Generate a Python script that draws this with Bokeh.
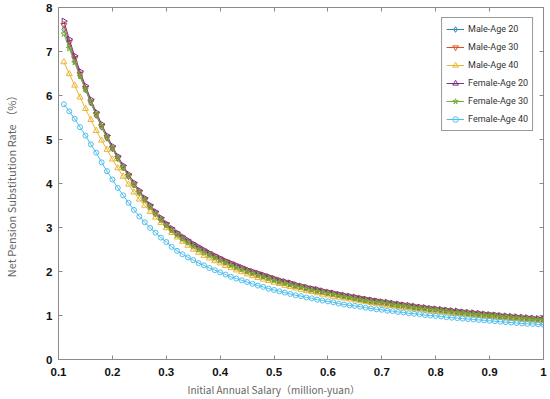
import math
from bokeh.plotting import figure
from bokeh.models import (Range1d, LinearAxis, FixedTicker, PrintfTickFormatter,
                          CustomJSTickFormatter, Legend, LegendItem, Title)
from bokeh.embed import file_html
from bokeh.resources import INLINE

# ---------------- data ----------------
salary = [0.11, 0.12, 0.13, 0.14, 0.15, 0.16, 0.17, 0.18, 0.19, 0.20,
          0.21, 0.22, 0.23, 0.24, 0.25, 0.26, 0.27, 0.28, 0.29, 0.30,
          0.31, 0.32, 0.33, 0.34, 0.35, 0.36, 0.37, 0.38, 0.39, 0.40,
          0.41, 0.42, 0.43, 0.44, 0.45, 0.46, 0.47, 0.48, 0.49, 0.50,
          0.51, 0.52, 0.53, 0.54, 0.55, 0.56, 0.57, 0.58, 0.59, 0.60,
          0.61, 0.62, 0.63, 0.64, 0.65, 0.66, 0.67, 0.68, 0.69, 0.70,
          0.71, 0.72, 0.73, 0.74, 0.75, 0.76, 0.77, 0.78, 0.79, 0.80,
          0.81, 0.82, 0.83, 0.84, 0.85, 0.86, 0.87, 0.88, 0.89, 0.90,
          0.91, 0.92, 0.93, 0.94, 0.95, 0.96, 0.97, 0.98, 0.99, 1.00]

male_age20 = [7.50, 7.13, 6.78, 6.44, 6.13, 5.83, 5.55, 5.28, 5.03, 4.79,
              4.57, 4.36, 4.16, 3.97, 3.79, 3.63, 3.47, 3.32, 3.18, 3.06,
              2.95, 2.85, 2.76, 2.68, 2.60, 2.53, 2.46, 2.39, 2.33, 2.28,
              2.22, 2.17, 2.12, 2.07, 2.02, 1.98, 1.94, 1.90, 1.86, 1.82,
              1.78, 1.75, 1.72, 1.69, 1.65, 1.63, 1.60, 1.57, 1.54, 1.52,
              1.49, 1.47, 1.44, 1.42, 1.40, 1.38, 1.36, 1.34, 1.32, 1.30,
              1.28, 1.26, 1.25, 1.23, 1.21, 1.20, 1.18, 1.17, 1.15, 1.14,
              1.12, 1.11, 1.10, 1.08, 1.07, 1.06, 1.05, 1.03, 1.02, 1.01,
              1.00, 0.99, 0.98, 0.97, 0.96, 0.95, 0.94, 0.93, 0.92, 0.91]

male_age30 = [7.60, 7.21, 6.84, 6.49, 6.17, 5.86, 5.57, 5.30, 5.05, 4.81,
              4.58, 4.37, 4.17, 3.98, 3.80, 3.64, 3.48, 3.33, 3.19, 3.07,
              2.96, 2.86, 2.77, 2.69, 2.61, 2.54, 2.47, 2.41, 2.35, 2.29,
              2.23, 2.18, 2.13, 2.08, 2.03, 1.99, 1.95, 1.91, 1.87, 1.83,
              1.79, 1.76, 1.73, 1.69, 1.66, 1.63, 1.61, 1.58, 1.55, 1.53,
              1.50, 1.48, 1.45, 1.43, 1.41, 1.39, 1.37, 1.35, 1.33, 1.31,
              1.29, 1.27, 1.25, 1.24, 1.22, 1.20, 1.19, 1.17, 1.16, 1.14,
              1.13, 1.12, 1.10, 1.09, 1.08, 1.06, 1.05, 1.04, 1.03, 1.02,
              1.01, 0.99, 0.98, 0.97, 0.96, 0.95, 0.94, 0.93, 0.92, 0.92]

male_age40 = [6.76, 6.49, 6.23, 5.96, 5.70, 5.45, 5.20, 4.98, 4.77, 4.55,
              4.35, 4.16, 3.98, 3.80, 3.64, 3.50, 3.36, 3.23, 3.11, 2.99,
              2.88, 2.78, 2.68, 2.59, 2.50, 2.43, 2.36, 2.30, 2.24, 2.19,
              2.13, 2.08, 2.03, 1.99, 1.94, 1.90, 1.86, 1.82, 1.79, 1.75,
              1.72, 1.68, 1.65, 1.62, 1.59, 1.56, 1.54, 1.51, 1.48, 1.46,
              1.43, 1.41, 1.39, 1.37, 1.35, 1.33, 1.31, 1.29, 1.27, 1.25,
              1.23, 1.22, 1.20, 1.18, 1.17, 1.15, 1.14, 1.12, 1.11, 1.09,
              1.08, 1.07, 1.05, 1.04, 1.03, 1.02, 1.01, 0.99, 0.98, 0.97,
              0.96, 0.95, 0.94, 0.93, 0.92, 0.91, 0.90, 0.89, 0.88, 0.88]

female_age20 = [7.69, 7.28, 6.90, 6.55, 6.22, 5.91, 5.62, 5.35, 5.09, 4.85,
                4.62, 4.41, 4.21, 4.02, 3.84, 3.67, 3.51, 3.36, 3.22, 3.09,
                2.98, 2.88, 2.79, 2.71, 2.63, 2.56, 2.49, 2.42, 2.36, 2.30,
                2.24, 2.19, 2.14, 2.09, 2.04, 2.00, 1.96, 1.92, 1.88, 1.84,
                1.80, 1.77, 1.74, 1.70, 1.67, 1.64, 1.61, 1.59, 1.56, 1.53,
                1.51, 1.48, 1.46, 1.44, 1.42, 1.39, 1.37, 1.35, 1.33, 1.31,
                1.30, 1.28, 1.26, 1.24, 1.23, 1.21, 1.19, 1.18, 1.16, 1.15,
                1.14, 1.12, 1.11, 1.10, 1.08, 1.07, 1.06, 1.05, 1.03, 1.02,
                1.01, 1.00, 0.99, 0.98, 0.97, 0.96, 0.95, 0.94, 0.93, 0.92]

female_age30 = [7.40, 7.07, 6.75, 6.44, 6.14, 5.85, 5.57, 5.30, 5.04, 4.80,
                4.57, 4.36, 4.16, 3.97, 3.79, 3.62, 3.46, 3.31, 3.17, 3.04,
                2.93, 2.83, 2.74, 2.66, 2.57, 2.50, 2.43, 2.37, 2.31, 2.25,
                2.20, 2.14, 2.09, 2.05, 2.00, 1.96, 1.91, 1.88, 1.84, 1.80,
                1.76, 1.73, 1.70, 1.67, 1.64, 1.61, 1.58, 1.55, 1.53, 1.50,
                1.48, 1.45, 1.43, 1.41, 1.38, 1.36, 1.34, 1.32, 1.30, 1.29,
                1.27, 1.25, 1.23, 1.22, 1.20, 1.18, 1.17, 1.15, 1.14, 1.13,
                1.11, 1.10, 1.08, 1.07, 1.06, 1.05, 1.03, 1.02, 1.01, 1.00,
                0.99, 0.98, 0.97, 0.96, 0.95, 0.94, 0.93, 0.92, 0.91, 0.90]

female_age40 = [5.80, 5.64, 5.47, 5.28, 5.09, 4.89, 4.70, 4.48, 4.28, 4.09,
                3.90, 3.73, 3.56, 3.40, 3.25, 3.12, 2.99, 2.88, 2.77, 2.67,
                2.56, 2.47, 2.39, 2.32, 2.26, 2.19, 2.14, 2.08, 2.03, 1.98,
                1.93, 1.88, 1.84, 1.80, 1.76, 1.72, 1.68, 1.65, 1.61, 1.58,
                1.55, 1.52, 1.49, 1.46, 1.44, 1.41, 1.39, 1.36, 1.34, 1.32,
                1.30, 1.27, 1.25, 1.23, 1.22, 1.20, 1.18, 1.16, 1.14, 1.13,
                1.11, 1.10, 1.08, 1.07, 1.05, 1.04, 1.03, 1.01, 1.00, 0.99,
                0.98, 0.96, 0.95, 0.94, 0.93, 0.92, 0.91, 0.90, 0.89, 0.88,
                0.87, 0.86, 0.85, 0.84, 0.83, 0.82, 0.81, 0.81, 0.80, 0.79]

series_labels = ["Male-Age 20", "Male-Age 30", "Male-Age 40",
                 "Female-Age 20", "Female-Age 30", "Female-Age 40"]
x_ticks = [0.1, 0.2, 0.3, 0.4, 0.5, 0.6, 0.7, 0.8, 0.9, 1.0]
y_ticks = [0, 1, 2, 3, 4, 5, 6, 7, 8]

series_values = [male_age20, male_age30, male_age40,
                 female_age20, female_age30, female_age40]

# ---------------- styles ----------------
colors = ["#2f86b4", "#d9541a", "#e9b534", "#7e2f8e", "#77ac30", "#4dbeee"]
markers = ["diamond", "inverted_triangle", "triangle", "triangle", "star", "circle"]
angles = [0, 0, 0, -math.pi / 2, 0, 0]
sizes = [6, 6, 6, 6, 6, 5]

AXIS_COL = "#8a8a8a"

p = figure(width=550, height=399, output_backend="svg", toolbar_location=None,
           x_range=Range1d(0.1, 1.0), y_range=Range1d(0, 8),
           min_border_left=54, min_border_right=7, min_border_top=7,
           min_border_bottom=40)
p.xgrid.visible = False
p.ygrid.visible = False
p.outline_line_color = AXIS_COL
p.background_fill_color = "white"

items = []
for vals, lab, col, mk, ang, sz in zip(series_values, series_labels, colors,
                                        markers, angles, sizes):
    r1 = p.line(salary, vals, line_color=col, line_width=1)
    r2 = p.scatter(salary, vals, marker=mk, angle=ang, size=sz,
                   line_color=col, line_width=1, fill_color=None)
    items.append(LegendItem(label=lab, renderers=[r1, r2]))

tick_font = dict(major_label_text_font="Liberation Sans",
                 major_label_text_font_style="bold",
                 major_label_text_font_size="11.5px",
                 major_label_text_color="#111111")

for ax in (p.xaxis[0], p.yaxis[0]):
    ax.axis_line_color = AXIS_COL
    ax.major_tick_line_color = AXIS_COL
    ax.major_tick_in = 4
    ax.major_tick_out = 0
    ax.minor_tick_line_color = None
    for k, v in tick_font.items():
        setattr(ax, k, v)

p.xaxis[0].ticker = FixedTicker(ticks=x_ticks)
p.xaxis[0].formatter = PrintfTickFormatter(format="%g")
p.xaxis[0].major_label_standoff = 8

p.yaxis[0].ticker = FixedTicker(ticks=y_ticks)
p.yaxis[0].major_label_standoff = 6
p.yaxis[0].axis_label = "Net Pension Substitution Rate （%）"
p.yaxis[0].axis_label_text_font = "Noto Sans CJK SC"
p.yaxis[0].axis_label_text_font_style = "normal"
p.yaxis[0].axis_label_text_font_size = "11px"
p.yaxis[0].axis_label_text_color = "#666666"
p.yaxis[0].axis_label_standoff = 24

blank = CustomJSTickFormatter(code="return ''")
top_ax = LinearAxis(ticker=FixedTicker(ticks=x_ticks), formatter=blank,
                    axis_line_color=AXIS_COL, major_tick_line_color=AXIS_COL,
                    major_tick_in=4, major_tick_out=0, minor_tick_line_color=None,
                    major_label_standoff=0)
right_ax = LinearAxis(ticker=FixedTicker(ticks=y_ticks), formatter=blank,
                      axis_line_color=AXIS_COL, major_tick_line_color=AXIS_COL,
                      major_tick_in=4, major_tick_out=0, minor_tick_line_color=None,
                      major_label_standoff=0)
p.add_layout(top_ax, "above")
p.add_layout(right_ax, "right")

xt = Title(text="Initial Annual Salary（million-yuan）", align="left", offset=129,
           text_font="Noto Sans CJK SC", text_font_size="10px",
           text_color="#666666", text_font_style="normal", standoff=2)
p.add_layout(xt, "below")

legend = Legend(items=items, location="top_right", margin=10, padding=4,
                spacing=4, glyph_width=18, glyph_height=14, label_height=14,
                label_standoff=4, label_text_font="Roboto",
                label_text_font_size="9px", label_text_color="#333333",
                border_line_color="#333333", border_line_width=1,
                background_fill_color="white", background_fill_alpha=1)
p.add_layout(legend)

open("out.html", "w").write(file_html(p, INLINE))
